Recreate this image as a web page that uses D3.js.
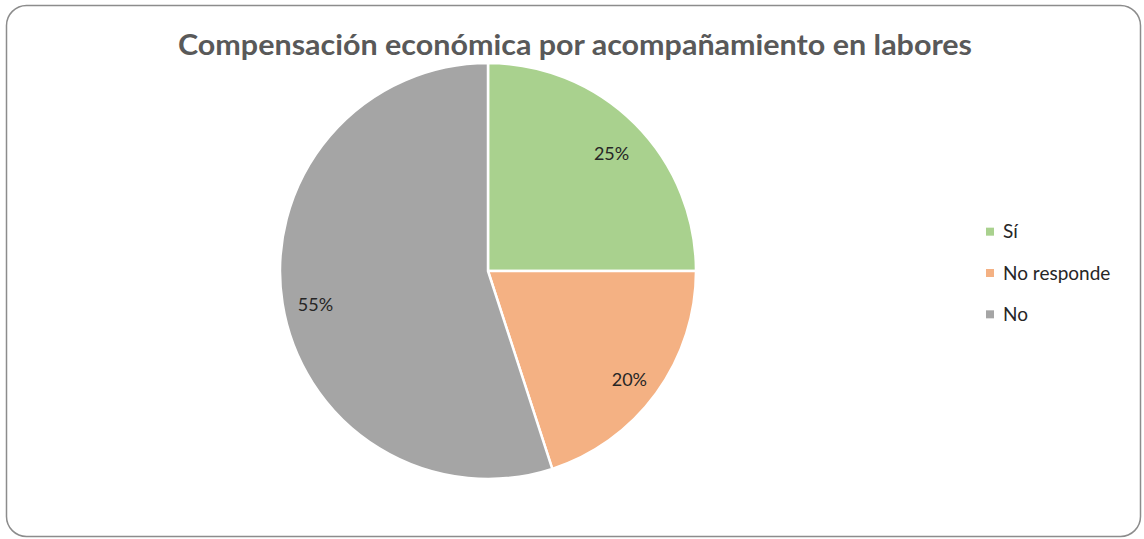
<!DOCTYPE html>
<html>
<head>
<meta charset="utf-8">
<script src="https://cdn.jsdelivr.net/npm/d3@7"></script>
<style>
  html, body { margin: 0; padding: 0; background: #ffffff; }
  svg { display: block; }
</style>
</head>
<body>
<svg id="chart" width="1144" height="539"></svg>
<script>
const categories = ["Sí", "No responde", "No"];
const values = [25, 20, 55];
const valueLabels = ["25%", "20%", "55%"];
const colors = ["#a9d18e", "#f4b183", "#a5a5a5"];
const title = "Compensación económica por acompañamiento en labores";

const svg = d3.select("#chart");
const font = "Lato, 'Open Sans', 'Liberation Sans', sans-serif";

svg.append("rect")
  .attr("x", 6.5).attr("y", 5.5)
  .attr("width", 1134).attr("height", 531)
  .attr("rx", 20).attr("ry", 20)
  .attr("fill", "#ffffff")
  .attr("stroke", "#8c8c8c")
  .attr("stroke-width", 1.5);

svg.append("text")
  .attr("x", 575).attr("y", 55)
  .attr("text-anchor", "middle")
  .attr("font-family", font)
  .attr("font-weight", "bold")
  .attr("font-size", 28)
  .attr("textLength", 794)
  .attr("lengthAdjust", "spacingAndGlyphs")
  .attr("fill", "#595959")
  .text(title);

const cx = 488, cy = 271, r = 208;
const g = svg.append("g").attr("transform", `translate(${cx},${cy})`);

const pie = d3.pie().sort(null).value(d => d);
const arcs = pie(values);
const arc = d3.arc().innerRadius(0).outerRadius(r);
const labelArc = d3.arc().innerRadius(r * 0.84).outerRadius(r * 0.84);

g.selectAll("path.slice")
  .data(arcs)
  .join("path")
  .attr("class", "slice")
  .attr("d", arc)
  .attr("fill", (d, i) => colors[i])
  .attr("stroke", "#ffffff")
  .attr("stroke-width", 2.5)
  .attr("stroke-linejoin", "round");

g.selectAll("text.lbl")
  .data(arcs)
  .join("text")
  .attr("class", "lbl")
  .attr("transform", d => { const c = labelArc.centroid(d); return `translate(${c[0]},${c[1] + 6})`; })
  .attr("text-anchor", "middle")
  .attr("dy", "0.35em")
  .attr("font-family", font)
  .attr("font-size", 18)
  .attr("fill", "#262626")
  .text((d, i) => valueLabels[i]);

const legendY = d3.scaleBand().domain(categories).range([211, 335]);
const leg = svg.append("g");
const items = leg.selectAll("g.item")
  .data(categories)
  .join("g")
  .attr("class", "item")
  .attr("transform", d => `translate(986,${legendY(d) + legendY.bandwidth() / 2})`);
items.append("rect")
  .attr("x", 0).attr("y", -4)
  .attr("width", 8).attr("height", 8)
  .attr("fill", (d, i) => colors[i]);
items.append("text")
  .attr("x", 17).attr("dy", "0.35em")
  .attr("font-family", font)
  .attr("font-size", 19)
  .attr("fill", "#262626")
  .text(d => d);
</script>
</body>
</html>
